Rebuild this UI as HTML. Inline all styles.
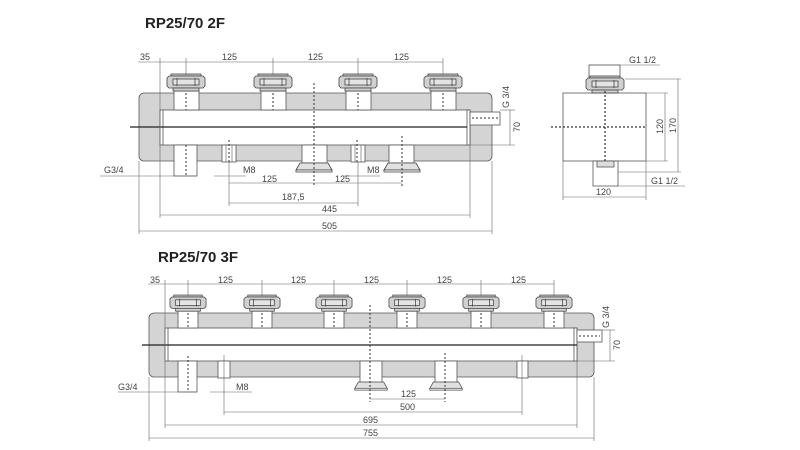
<!DOCTYPE html>
<html><head><meta charset="utf-8"><style>
html,body{margin:0;padding:0;background:#fff;}
svg{display:block;}
text{font-family:"Liberation Sans",sans-serif;font-size:9px;fill:#444;}
.t{font-size:15px;font-weight:bold;fill:#222;}
</style></head><body>
<svg width="800" height="450" viewBox="0 0 800 450" xmlns="http://www.w3.org/2000/svg">
<defs>
<g id="nut" stroke="#444" stroke-width="0.8" fill="#d0d0d0">
<rect x="-15" y="-1" width="30" height="2"/>
<path d="M-19,3 L-17,1 L17,1 L19,3 L19,11 L17,13 L-17,13 L-19,11 Z"/>
<rect x="-13" y="4" width="26" height="6" fill="#e4e4e4"/>
<line x1="-9" y1="3" x2="-9" y2="11"/><line x1="9" y1="3" x2="9" y2="11"/>
<rect x="-13" y="13" width="26" height="3"/>
</g>
<g id="cone" stroke="#444" stroke-width="0.8" fill="#fff">
<path d="M-14,0 L14,0 L18,7 L-18,7 Z" fill="#e0e0e0"/>
<rect x="-18" y="7" width="36" height="2" fill="#fff"/>
</g>
</defs>

<text class="t" x="145" y="28">RP25/70 2F</text>
<text class="t" x="158" y="262">RP25/70 3F</text>

<!-- ===== 2F ===== -->
<g stroke="#555" stroke-width="0.8">
<rect x="139" y="93" width="353" height="68" rx="5" fill="#d4d4d4"/>
<rect x="160" y="110" width="310" height="35" fill="#fff"/>
<line x1="163" y1="110" x2="163" y2="145"/>
<rect x="467" y="110" width="3" height="35" fill="#fff"/>
<rect x="470" y="112" width="30" height="13" fill="#fff"/>
<!-- top necks -->
<rect x="174" y="91" width="25" height="19" fill="#fff"/>
<rect x="261" y="91" width="25" height="19" fill="#fff"/>
<rect x="346" y="91" width="25" height="19" fill="#fff"/>
<rect x="431" y="91" width="25" height="19" fill="#fff"/>
<!-- bottom -->
<rect x="174" y="145" width="23" height="31" fill="#fff"/>
<rect x="222" y="145" width="14" height="17" fill="#fff"/>
<rect x="351" y="145" width="14" height="17" fill="#fff"/>
<rect x="302" y="145" width="25" height="18" fill="#fff"/>
<rect x="389" y="145" width="25" height="18" fill="#fff"/>
</g>
<line x1="226" y1="145" x2="226" y2="162" stroke="#555" stroke-width="0.6"/>
<line x1="232" y1="145" x2="232" y2="162" stroke="#555" stroke-width="0.6"/>
<line x1="355" y1="145" x2="355" y2="162" stroke="#555" stroke-width="0.6"/>
<line x1="361" y1="145" x2="361" y2="162" stroke="#555" stroke-width="0.6"/>
<use href="#nut" x="186" y="75"/><use href="#nut" x="273" y="75"/>
<use href="#nut" x="358" y="75"/><use href="#nut" x="443" y="75"/>
<use href="#cone" x="314" y="163"/><use href="#cone" x="402" y="163"/>
<line x1="130" y1="127" x2="467" y2="127" stroke="#222" stroke-width="1.2"/>
<g stroke="#333" stroke-width="1" stroke-dasharray="2,2" fill="none">
<line x1="186" y1="93" x2="186" y2="110"/><line x1="273" y1="93" x2="273" y2="110"/>
<line x1="358" y1="93" x2="358" y2="110"/><line x1="443" y1="93" x2="443" y2="110"/>
<line x1="186" y1="145" x2="186" y2="176"/>
<line x1="314" y1="83" x2="314" y2="186"/>
<line x1="402" y1="136" x2="402" y2="186"/>
<line x1="229" y1="140" x2="229" y2="162"/><line x1="357" y1="140" x2="357" y2="162"/>
<line x1="472" y1="118" x2="498" y2="118"/>
</g>
<g stroke="#666" stroke-width="0.6" fill="none">
<line x1="138" y1="62" x2="443" y2="62"/>
<line x1="160" y1="58" x2="160" y2="218"/>
<line x1="186" y1="58" x2="186" y2="75"/><line x1="273" y1="58" x2="273" y2="75"/>
<line x1="358" y1="58" x2="358" y2="75"/><line x1="443" y1="58" x2="443" y2="75"/>
<line x1="100" y1="176" x2="197" y2="176"/>
<line x1="214" y1="176" x2="246" y2="176"/><line x1="343" y1="176" x2="380" y2="176"/>
<line x1="229" y1="162" x2="229" y2="206"/><line x1="358" y1="162" x2="358" y2="206"/>
<line x1="229" y1="183" x2="402" y2="183"/>
<line x1="229" y1="203" x2="358" y2="203"/>
<line x1="160" y1="215" x2="470" y2="215"/>
<line x1="470" y1="145" x2="470" y2="218"/>
<line x1="139" y1="161" x2="139" y2="234"/><line x1="492" y1="161" x2="492" y2="234"/>
<line x1="139" y1="231" x2="492" y2="231"/>
<line x1="500" y1="110" x2="515" y2="110"/><line x1="470" y1="145" x2="515" y2="145"/>
<line x1="510" y1="110" x2="510" y2="145"/>
</g>
<text x="140" y="60">35</text><text x="222" y="60">125</text><text x="308" y="60">125</text><text x="394" y="60">125</text>
<text x="104" y="173">G3/4</text><text x="243" y="173">M8</text><text x="367" y="173">M8</text>
<text x="262" y="182">125</text><text x="335" y="182">125</text>
<text x="282" y="200">187,5</text><text x="322" y="212">445</text><text x="322" y="229">505</text>
<text transform="translate(509,108) rotate(-90)">G 3/4</text>
<text transform="translate(520,132) rotate(-90)">70</text>

<!-- side view -->
<g stroke="#555" stroke-width="0.8" fill="#fff">
<rect x="563" y="93" width="83" height="68"/>
<rect x="589" y="65" width="31" height="14"/>
<rect x="593" y="161" width="25" height="25"/>
<rect x="597" y="161" width="17" height="6" fill="#ddd"/>
</g>
<use href="#nut" x="605" y="77"/>
<g stroke="#333" stroke-width="1.2" stroke-dasharray="2,2">
<line x1="605" y1="91" x2="605" y2="161"/>
<line x1="551" y1="127" x2="646" y2="127"/>
</g>
<g stroke="#666" stroke-width="0.6" fill="none">
<line x1="589" y1="65" x2="660" y2="65"/>
<line x1="646" y1="93" x2="668" y2="93"/><line x1="646" y1="161" x2="668" y2="161"/>
<line x1="665" y1="93" x2="665" y2="161"/>
<line x1="625" y1="79" x2="681" y2="79"/><line x1="618" y1="172" x2="681" y2="172"/>
<line x1="678" y1="79" x2="678" y2="172"/>
<line x1="618" y1="186" x2="685" y2="186"/>
<line x1="563" y1="161" x2="563" y2="200"/><line x1="646" y1="161" x2="646" y2="200"/>
<line x1="563" y1="197" x2="646" y2="197"/>
</g>
<text x="629" y="63">G1 1/2</text><text x="651" y="184">G1 1/2</text><text x="596" y="195">120</text>
<text transform="translate(663,134) rotate(-90)">120</text>
<text transform="translate(676,133) rotate(-90)">170</text>

<!-- ===== 3F ===== -->
<g stroke="#555" stroke-width="0.8">
<rect x="149" y="313" width="445" height="64" rx="5" fill="#d4d4d4"/>
<rect x="165" y="328" width="412" height="33" fill="#fff"/>
<line x1="168" y1="328" x2="168" y2="361"/>
<rect x="574" y="328" width="3" height="33" fill="#fff"/>
<rect x="577" y="330" width="25" height="12" fill="#fff"/>
<rect x="178" y="309" width="20" height="19" fill="#fff"/>
<rect x="252" y="309" width="20" height="19" fill="#fff"/>
<rect x="324" y="309" width="20" height="19" fill="#fff"/>
<rect x="397" y="309" width="20" height="19" fill="#fff"/>
<rect x="471" y="309" width="20" height="19" fill="#fff"/>
<rect x="544" y="309" width="20" height="19" fill="#fff"/>
<rect x="178" y="361" width="19" height="31" fill="#fff"/>
<rect x="218" y="361" width="12" height="17" fill="#fff"/>
<rect x="517" y="361" width="11" height="17" fill="#fff"/>
<rect x="360" y="361" width="22" height="22" fill="#fff"/>
<rect x="435" y="361" width="22" height="22" fill="#fff"/>
</g>
<g transform="translate(188,296) scale(0.95)"><use href="#nut"/></g>
<g transform="translate(262,296) scale(0.95)"><use href="#nut"/></g>
<g transform="translate(334,296) scale(0.95)"><use href="#nut"/></g>
<g transform="translate(407,296) scale(0.95)"><use href="#nut"/></g>
<g transform="translate(481,296) scale(0.95)"><use href="#nut"/></g>
<g transform="translate(554,296) scale(0.95)"><use href="#nut"/></g>
<g transform="translate(371,382) scale(0.9)"><use href="#cone"/></g>
<g transform="translate(446,382) scale(0.9)"><use href="#cone"/></g>
<line x1="142" y1="345" x2="577" y2="345" stroke="#222" stroke-width="1.2"/>
<g stroke="#333" stroke-width="1" stroke-dasharray="2,2" fill="none">
<line x1="188" y1="313" x2="188" y2="328"/><line x1="262" y1="313" x2="262" y2="328"/>
<line x1="334" y1="313" x2="334" y2="328"/><line x1="407" y1="313" x2="407" y2="328"/>
<line x1="481" y1="313" x2="481" y2="328"/><line x1="554" y1="313" x2="554" y2="328"/>
<line x1="188" y1="356" x2="188" y2="392"/>
<line x1="370" y1="305" x2="370" y2="402"/>
<line x1="445" y1="353" x2="445" y2="402"/>
<line x1="579" y1="336" x2="600" y2="336"/>
</g>
<g stroke="#666" stroke-width="0.6" fill="none">
<line x1="148" y1="284" x2="554" y2="284"/>
<line x1="165" y1="280" x2="165" y2="428"/>
<line x1="188" y1="280" x2="188" y2="296"/><line x1="262" y1="280" x2="262" y2="296"/>
<line x1="334" y1="280" x2="334" y2="296"/><line x1="407" y1="280" x2="407" y2="296"/>
<line x1="481" y1="280" x2="481" y2="296"/><line x1="554" y1="280" x2="554" y2="296"/>
<line x1="118" y1="392" x2="197" y2="392"/>
<line x1="210" y1="392" x2="252" y2="392"/>
<line x1="224" y1="355" x2="224" y2="415"/><line x1="522" y1="355" x2="522" y2="415"/>
<line x1="370" y1="399" x2="445" y2="399"/>
<line x1="224" y1="412" x2="522" y2="412"/>
<line x1="577" y1="361" x2="577" y2="428"/>
<line x1="165" y1="425" x2="577" y2="425"/>
<line x1="149" y1="377" x2="149" y2="441"/><line x1="594" y1="377" x2="594" y2="441"/>
<line x1="149" y1="438" x2="594" y2="438"/>
<line x1="602" y1="330" x2="615" y2="330"/><line x1="577" y1="361" x2="615" y2="361"/>
<line x1="610" y1="330" x2="610" y2="361"/>
</g>
<text x="150" y="283">35</text><text x="218" y="283">125</text><text x="291" y="283">125</text><text x="364" y="283">125</text><text x="437" y="283">125</text><text x="511" y="283">125</text>
<text x="118" y="390">G3/4</text><text x="236" y="390">M8</text>
<text x="401" y="397">125</text><text x="400" y="410">500</text><text x="363" y="423">695</text><text x="363" y="436">755</text>
<text transform="translate(609,328) rotate(-90)">G 3/4</text>
<text transform="translate(620,350) rotate(-90)">70</text>
</svg>
</body></html>
